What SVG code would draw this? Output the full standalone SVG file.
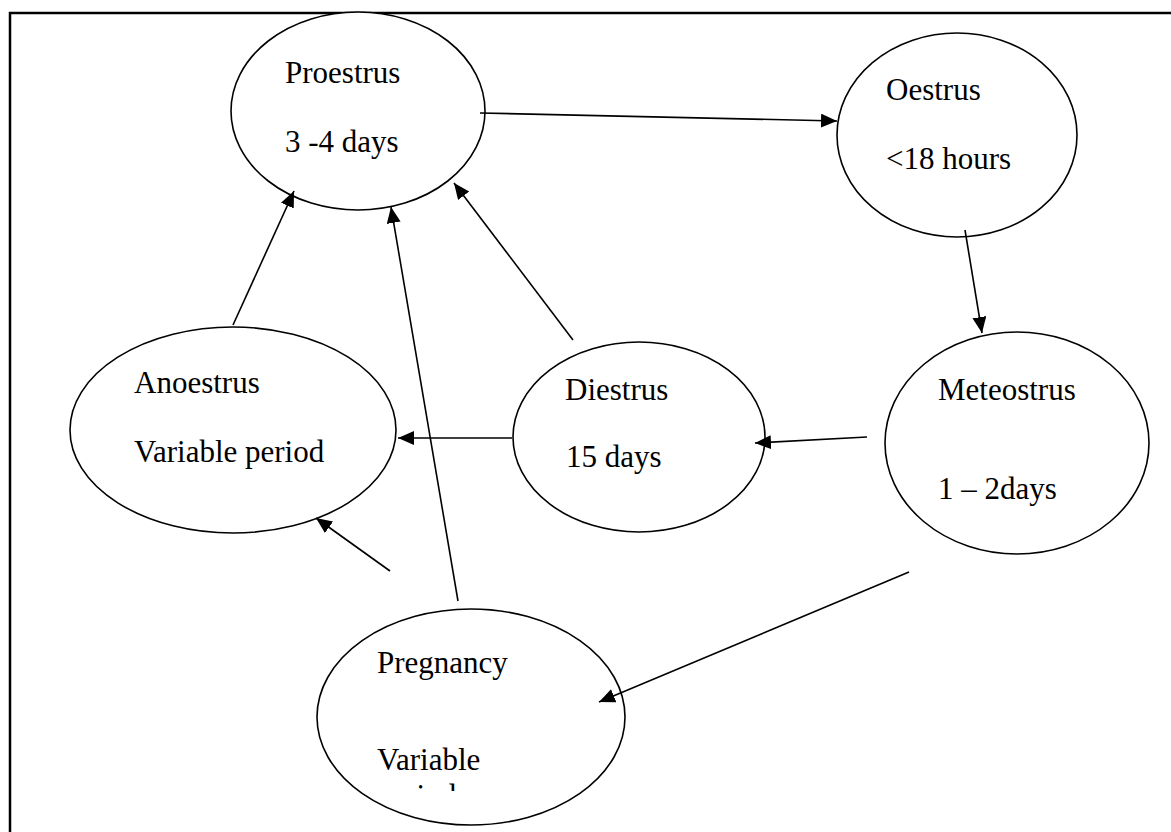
<svg xmlns="http://www.w3.org/2000/svg" width="1171" height="832" viewBox="0 0 1171 832">
<style>
.node{fill:#fff;stroke:#000;stroke-width:1.6}
.t{font-family:"Liberation Serif","Times New Roman",serif;font-size:31px;fill:#000}
.edge{stroke:#000;stroke-width:1.6;fill:none;marker-end:url(#ah)}
.frame{stroke:#000;stroke-width:2.5;fill:none}
</style>
<defs>
<marker id="ah" markerUnits="userSpaceOnUse" markerWidth="18" markerHeight="15" refX="16" refY="7" orient="auto">
<path d="M0,0 L16,7 L0,14 Z" fill="#000"/>
</marker>
<clipPath id="clipP"><rect x="300" y="600" width="400" height="191"/></clipPath>
</defs>
<rect width="1171" height="832" fill="#fff"/>
<path class="frame" d="M10,832 V13 H1171"/>
<g id="nodes">
<g id="proestrus"><ellipse class="node" cx="358" cy="111" rx="127" ry="99"/><text class="t" x="285" y="83">Proestrus</text><text class="t" x="285" y="152">3 -4 days</text></g>
<g id="oestrus"><ellipse class="node" cx="957" cy="135" rx="120" ry="102"/><text class="t" x="886" y="100">Oestrus</text><text class="t" x="886" y="169">&lt;18 hours</text></g>
<g id="meteostrus"><ellipse class="node" cx="1017" cy="443" rx="132" ry="111"/><text class="t" x="938" y="400">Meteostrus</text><text class="t" x="938" y="499">1 – 2days</text></g>
<g id="diestrus"><ellipse class="node" cx="639" cy="437" rx="126" ry="95"/><text class="t" x="565" y="400">Diestrus</text><text class="t" x="566" y="467">15 days</text></g>
<g id="anoestrus"><ellipse class="node" cx="233" cy="430" rx="163" ry="103"/><text class="t" x="134" y="393">Anoestrus</text><text class="t" x="134" y="462">Variable period</text></g>
<g id="pregnancy"><ellipse class="node" cx="471" cy="717" rx="154" ry="108"/><text class="t" x="377" y="673">Pregnancy</text><text class="t" x="377" y="770">Variable</text><text class="t" x="377" y="806" clip-path="url(#clipP)">period</text></g>
</g>
<g id="connectors">
<line class="edge" x1="480" y1="113" x2="837" y2="121"/>
<line class="edge" x1="965" y1="230" x2="982" y2="333"/>
<line class="edge" x1="867" y1="437" x2="755" y2="443"/>
<line class="edge" x1="512" y1="438" x2="398" y2="438"/>
<line class="edge" x1="573" y1="340" x2="454" y2="183"/>
<line class="edge" x1="233" y1="325" x2="294" y2="191"/>
<line class="edge" x1="458" y1="601" x2="391" y2="207"/>
<line class="edge" x1="390" y1="571" x2="316" y2="518"/>
<line class="edge" x1="909" y1="572" x2="599" y2="702"/>
</g>
</svg>
